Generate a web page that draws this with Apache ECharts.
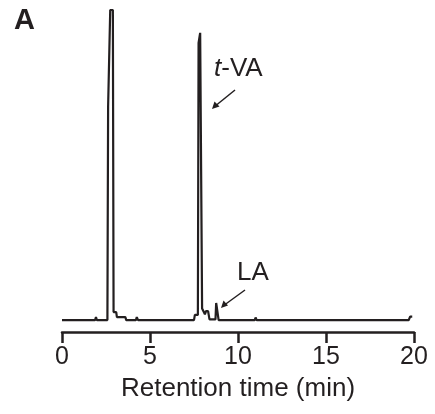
<!DOCTYPE html>
<html>
<head>
<meta charset="utf-8">
<script src="https://cdn.jsdelivr.net/npm/echarts@6/dist/echarts.min.js"></script>
<style>
html, body { margin: 0; padding: 0; background: #fff; }
#main { width: 435px; height: 414px; }
</style>
</head>
<body>
<div id="main"></div>
<script>
// retention time (min) and detector signal (relative units)
var times = [0, 1.88, 1.93, 1.98, 2.58, 2.62, 2.71, 2.74, 2.89, 2.93, 3.08, 3.12, 3.6, 3.65,
    4.2, 4.25, 4.32, 5.55, 5.6, 5.66, 7.5, 7.55, 7.72, 7.76, 7.83, 7.85, 7.92, 7.96, 8.05,
    8.12, 8.18, 8.3, 8.38, 8.72, 8.76, 8.84, 8.9, 10.95, 11.0, 11.06, 19.7, 19.78, 19.9];
var signal = [3.7, 3.7, 4.6, 3.7, 3.7, 70, 70, 100, 100, 6.2, 6.2, 4.6, 4.6, 3.7,
    3.7, 4.6, 3.7, 3.7, 4.3, 3.7, 3.7, 5.3, 5.3, 89.8, 89.8, 92.9, 92.9, 7.3, 7.3,
    5.5, 6.5, 6.5, 3.9, 3.9, 9.0, 9.0, 3.7, 3.7, 4.5, 3.7, 3.7, 4.8, 4.8];
var xTicks = [0, 5, 10, 15, 20];

var points = times.map(function (t, i) { return [t, signal[i]]; });

var chart = echarts.init(document.getElementById('main'));
chart.setOption({
    animation: false,
    grid: { left: 62, right: 21, top: 10, bottom: 82 },
    xAxis: {
        type: 'value',
        min: xTicks[0],
        max: xTicks[xTicks.length - 1],
        interval: 5,
        name: 'Retention time (min)',
        nameLocation: 'middle',
        nameGap: 44,
        nameTextStyle: { fontFamily: 'Liberation Sans', fontSize: 26, color: '#231f20' },
        axisLine: { lineStyle: { color: '#231f20', width: 2.5 } },
        axisTick: { inside: false, length: 11, lineStyle: { color: '#231f20', width: 2.5 } },
        axisLabel: { fontFamily: 'Liberation Sans', fontSize: 25, color: '#231f20', margin: 13 },
        splitLine: { show: false }
    },
    yAxis: {
        type: 'value',
        min: 0,
        max: 100,
        show: false
    },
    series: [{
        type: 'line',
        data: points,
        symbol: 'none',
        lineStyle: { color: '#231f20', width: 2.2 }
    }],
    graphic: [
        { type: 'text', left: 14, top: 6, style: { text: 'A', font: 'bold 29px Liberation Sans', fill: '#231f20' } },
        { type: 'text', left: 214, top: 56, style: {
            rich: { i: { font: 'italic 26px Liberation Sans', fill: '#231f20' },
                    n: { font: '26px Liberation Sans', fill: '#231f20' } },
            text: '{i|t}{n|-VA}' } },
        { type: 'line', shape: { x1: 235, y1: 90, x2: 214, y2: 107 }, style: { stroke: '#231f20', lineWidth: 1.5 } },
        { type: 'polygon', shape: { points: [[212, 109], [214.5, 101.5], [219.5, 106.5]] }, style: { fill: '#231f20' } },
        { type: 'text', left: 237, top: 260, style: { text: 'LA', font: '26px Liberation Sans', fill: '#231f20' } },
        { type: 'line', shape: { x1: 245, y1: 290, x2: 223, y2: 306 }, style: { stroke: '#231f20', lineWidth: 1.5 } },
        { type: 'polygon', shape: { points: [[221, 308], [223.5, 300.5], [228, 305.5]] }, style: { fill: '#231f20' } }
    ]
});
</script>
</body>
</html>
